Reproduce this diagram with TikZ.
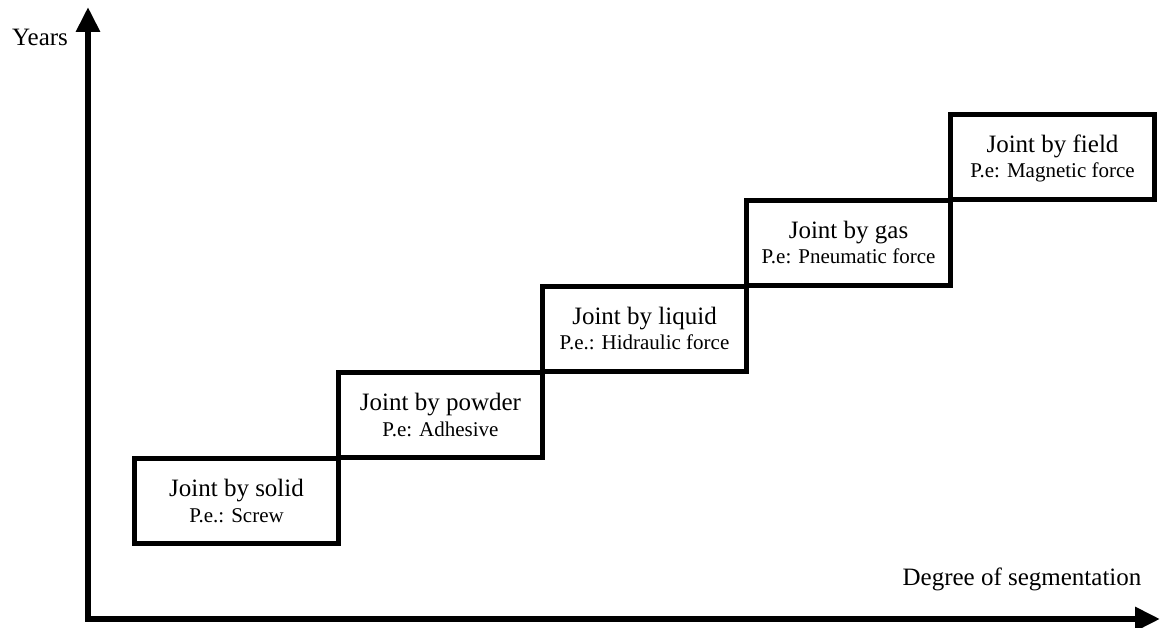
\documentclass[tikz,border=0pt]{standalone}
\usepackage{fontspec}
\setmainfont{Liberation Serif}
\usetikzlibrary{arrows.meta,calc}
\tikzset{
  jbox/.style={draw=black, line width=5pt, minimum width=204pt, minimum height=85pt, inner sep=0pt, outer sep=0pt},
  jtitle/.style={anchor=base, inner sep=0pt, font=\fontsize{25}{30}\selectfont},
  jsub/.style={anchor=base, inner sep=0pt, font=\fontsize{21}{25}\selectfont},
  axislbl/.style={anchor=base, inner sep=0pt, font=\fontsize{25}{30}\selectfont},
  axisline/.style={line width=6pt, line join=miter, {Triangle[length=25pt,width=23pt]}-{Triangle[length=25pt,width=23pt]}}
}
\begin{document}
\begin{tikzpicture}[x=1pt,y=-1pt]
\useasboundingbox (0,0) rectangle (1160,628);
\coordinate (ytip) at (88,7);
\coordinate (origin) at (88,619);
\coordinate (xtip) at (1160,619);
\draw[axisline] (ytip) -- (origin) -- (xtip);
\node[axislbl] (ylbl) at (40,46) {Years};
\node[axislbl] (xlbl) at (1022,585) {Degree of segmentation};

\node[jbox] (b1) at (236.5,501) {};
\node[jbox] (b2) at (440.5,415) {};
\node[jbox] (b3) at (644.5,329) {};
\node[jbox] (b4) at (848.5,243) {};
\node[jbox] (b5) at (1052.5,157) {};

\node[jtitle] (t1) at ($(b1.center)+(0,-4.5)$) {Joint by solid};
\node[jsub]   (s1) at ($(b1.center)+(0,21)$) {P.e.: Screw};
\node[jtitle] (t2) at ($(b2.center)+(0,-4.5)$) {Joint by powder};
\node[jsub]   (s2) at ($(b2.center)+(0,21)$) {P.e: Adhesive};
\node[jtitle] (t3) at ($(b3.center)+(0,-4.5)$) {Joint by liquid};
\node[jsub]   (s3) at ($(b3.center)+(0,21)$) {P.e.: Hidraulic force};
\node[jtitle] (t4) at ($(b4.center)+(0,-4.5)$) {Joint by gas};
\node[jsub]   (s4) at ($(b4.center)+(0,21)$) {P.e: Pneumatic force};
\node[jtitle] (t5) at ($(b5.center)+(0,-4.5)$) {Joint by field};
\node[jsub]   (s5) at ($(b5.center)+(0,21)$) {P.e: Magnetic force};
\end{tikzpicture}
\end{document}
